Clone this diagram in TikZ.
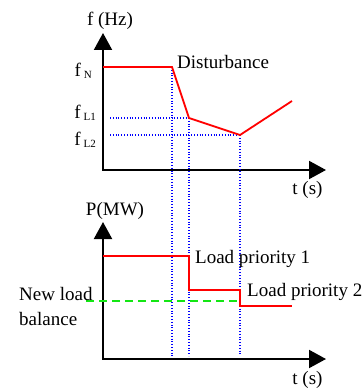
\documentclass[tikz,border=0pt]{standalone}
\usepackage{fontspec}
\setmainfont{Liberation Serif}
\usetikzlibrary{arrows.meta}
\definecolor{shedgreen}{RGB}{20,230,20}

\newcommand{\lowsub}[1]{\hspace{3pt}\raisebox{-1.5pt}{\fontsize{11}{11}\selectfont #1}}

\begin{document}
\begin{tikzpicture}[x=1pt,y=-1pt,font=\rmfamily\fontsize{19}{23}\selectfont]
    \tikzstyle{axes}=[line width=2pt,{Triangle[width=18pt,length=17pt]}-{Triangle[width=18pt,length=17pt]}]
    \tikzstyle{curve}=[red,line width=1.8pt]
    \tikzstyle{guide}=[blue,line width=1.1pt,dash pattern=on 1pt off 1.8pt]
    \tikzstyle{balance}=[shedgreen,line width=1.8pt,dash pattern=on 8pt off 5pt]
    \tikzstyle{label}=[inner sep=0pt]

    \useasboundingbox (0,0) rectangle (362,390);

    % Draw the frequency axes
    \coordinate (fo) at (103,170);
    \coordinate (fy) at (103,33);
    \coordinate (fx) at (326,170);
    \draw[axes] (fy) -- (fo) -- (fx);

    % Draw the power axes
    \coordinate (po) at (103,359);
    \coordinate (py) at (103,222);
    \coordinate (px) at (326,359);
    \draw[axes] (py) -- (po) -- (px);

    % Points of the frequency curve
    \coordinate (fN) at (103,67);
    \coordinate (dist) at (172,67);
    \coordinate (fL1) at (189,118);
    \coordinate (fL2) at (240,135);
    \coordinate (rec) at (292,101);

    % Dotted guides down to the power plot
    \coordinate (gL1) at (110,118);
    \coordinate (gL2) at (110,135);
    \draw[guide] (gL1) -- (fL1);
    \draw[guide] (gL2) -- (fL2);
    \foreach \src/\x in {dist/172,fL1/189,fL2/240}{
        \coordinate (b-\src) at (\x,356);
        \draw[guide] (\src) -- (b-\src);
    }

    % Frequency drop and recovery
    \draw[curve] (fN) -- (dist) -- (fL1) -- (fL2) -- (rec);

    % Load shedding steps
    \coordinate (p0) at (103,256);
    \coordinate (p1) at (189,256);
    \coordinate (p1b) at (189,290);
    \coordinate (p2) at (240,290);
    \coordinate (p2b) at (240,306);
    \coordinate (pend) at (292,306);
    \coordinate (nb0) at (86,301);
    \coordinate (nb1) at (240,301);
    \draw[balance] (nb0) -- (nb1);
    \draw[curve] (p0) -- (p1) -- (p1b) -- (p2) -- (p2b) -- (pend);

    % Annotate the axes and curves
    \node[label,anchor=base] (fyl) at (110,26) {f (Hz)};
    \node[label,anchor=base east] (lN) at (92,77) {f\lowsub{N}};
    \node[label,anchor=base east] (lL1) at (96,119) {f\lowsub{L1}};
    \node[label,anchor=base east] (lL2) at (96,146) {f\lowsub{L2}};
    \node[label,anchor=base west] (distl) at (177,69) {Disturbance};
    \node[label,anchor=base] (ftl) at (307.5,194) {t (s)};
    \node[label,anchor=base] (pyl) at (115,215) {P(MW)};
    \node[label,anchor=base west] (lp1) at (195,263) {Load priority 1};
    \node[label,anchor=base west] (lp2) at (247,296) {Load priority 2};
    \node[label,anchor=base west] (nl) at (19,300) {New load};
    \node[label,anchor=base west] (bal) at (19,325) {balance};
    \node[label,anchor=base] (ptl) at (307.5,384) {t (s)};
\end{tikzpicture}
\end{document}
